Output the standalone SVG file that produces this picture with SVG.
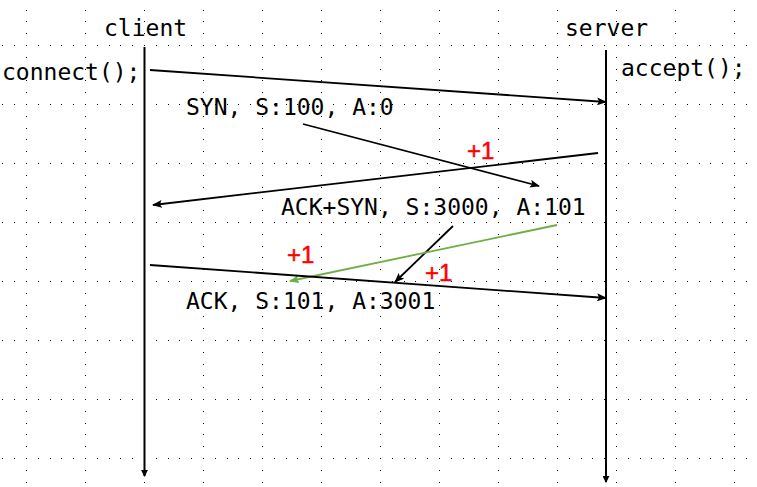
<svg xmlns="http://www.w3.org/2000/svg" width="757" height="487" viewBox="0 0 757 487">
<style>
.mono{font-family:"DejaVu Sans Mono","Liberation Mono",monospace;font-size:23px;fill:#000}
.red{font-family:"Liberation Sans",Arial,sans-serif;font-size:24px;fill:#ff0000;stroke:#ff0000;stroke-width:0.5}
.life{stroke:#000;stroke-width:2;fill:none}
.msg{stroke:#000;stroke-width:1.8;fill:none;marker-end:url(#ah)}
.green{stroke:#70ad47;stroke-width:1.8;fill:none;marker-end:url(#ahg)}
</style>
<defs>
<pattern id="grid" patternUnits="userSpaceOnUse" x="26" y="45" width="59" height="59">
<g fill="#000">
<rect x="0" y="0" width="1" height="1"/><rect x="12" y="0" width="1" height="1"/><rect x="24" y="0" width="1" height="1"/><rect x="35" y="0" width="1" height="1"/><rect x="47" y="0" width="1" height="1"/>
<rect x="0" y="12" width="1" height="1"/><rect x="0" y="24" width="1" height="1"/><rect x="0" y="35" width="1" height="1"/><rect x="0" y="47" width="1" height="1"/>
</g>
</pattern>
<marker id="ah" viewBox="0 0 10 8" refX="9" refY="4" markerWidth="10" markerHeight="8" markerUnits="userSpaceOnUse" orient="auto">
<path d="M0,0 L10,4 L0,8 L2,4 z" fill="#000"/>
</marker>
<marker id="ahg" viewBox="0 0 10 8" refX="9" refY="4" markerWidth="10" markerHeight="8" markerUnits="userSpaceOnUse" orient="auto">
<path d="M0,0 L10,4 L0,8 L2,4 z" fill="#70ad47"/>
</marker>
<marker id="lah" viewBox="0 0 8 8" refX="7" refY="4" markerWidth="7" markerHeight="7" markerUnits="userSpaceOnUse" orient="auto">
<path d="M0,0 L8,4 L0,8 z" fill="#000"/>
</marker>
</defs>
<rect width="757" height="487" fill="#fff"/>
<rect width="757" height="487" fill="url(#grid)"/>

<g id="client">
<text class="mono" x="104" y="36">client</text>
<line class="life" x1="144.5" y1="47" x2="144.5" y2="476" marker-end="url(#lah)"/>
</g>
<g id="server">
<text class="mono" x="565" y="36">server</text>
<line class="life" x1="606" y1="50" x2="606" y2="482" marker-end="url(#lah)"/>
</g>
<g id="connect">
<text class="mono" x="2" y="80">connect();</text>
</g>
<g id="accept">
<text class="mono" x="621" y="76">accept();</text>
</g>
<g id="syn-label">
<text class="mono" x="186" y="115">SYN, S:100, A:0</text>
</g>
<g id="synack-label">
<text class="mono" x="281" y="215">ACK+SYN, S:3000, A:101</text>
</g>
<g id="ack-label">
<text class="mono" x="186" y="309">ACK, S:101, A:3001</text>
</g>
<g id="plus1-a"><text class="red" x="467" y="159">+1</text></g>
<g id="plus1-b"><text class="red" x="287" y="263">+1</text></g>
<g id="plus1-c"><text class="red" x="425" y="281">+1</text></g>

<g id="connectors">
<line class="msg" x1="150" y1="70" x2="606" y2="102"/>
<line class="msg" x1="303" y1="124" x2="539" y2="186"/>
<line class="msg" x1="598" y1="153" x2="153" y2="205"/>
<line class="msg" x1="453" y1="226" x2="395" y2="282"/>
<line class="green" x1="557" y1="225" x2="290" y2="281"/>
<line class="msg" x1="150" y1="265" x2="606" y2="298"/>
</g>
</svg>
